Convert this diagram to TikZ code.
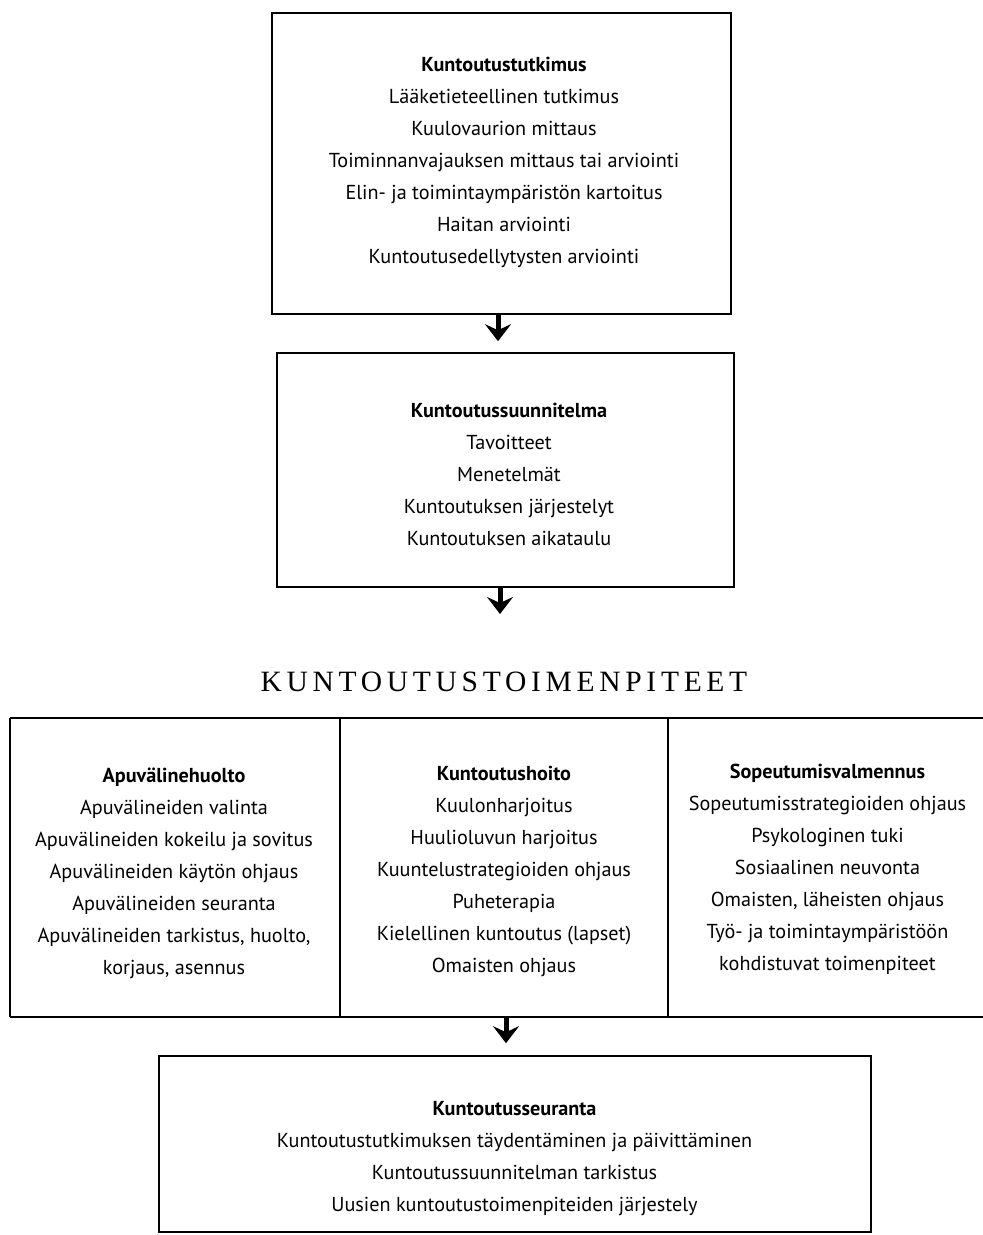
\documentclass[tikz,border=0pt]{standalone}
\usepackage{fontspec}
\setmainfont{PT Sans}
\newfontfamily\titlefont[LetterSpace=16]{Liberation Serif}
\usetikzlibrary{arrows.meta}
\begin{document}
\begin{tikzpicture}[x=1pt,y=-1pt,
  box/.style={draw, line width=1.6pt, inner sep=0pt},
  cell/.style={inner sep=0pt},
  txt/.style={align=center, font=\fontsize{20.2}{32}\selectfont, inner sep=0pt},
  ln/.style={line width=1.6pt},
  arr/.style={line width=5pt, -{Stealth[length=17pt,width=26pt,inset=6pt]}}]
\useasboundingbox (0,0) rectangle (983,1235);

% box 1
\node[box, minimum width=459pt, minimum height=301pt] (b1) at (501.5,163.5) {};
\node[txt] (t1) at (504,162) {\textbf{Kuntoutustutkimus}\\
Lääketieteellinen tutkimus\\
Kuulovaurion mittaus\\
Toiminnanvajauksen mittaus tai arviointi\\
Elin- ja toimintaympäristön kartoitus\\
Haitan arviointi\\
Kuntoutusedellytysten arviointi};

% box 2
\node[box, minimum width=457pt, minimum height=234pt] (b2) at (505.5,470) {};
\node[txt] (t2) at (509,474) {\textbf{Kuntoutussuunnitelma}\\
Tavoitteet\\
Menetelmät\\
Kuntoutuksen järjestelyt\\
Kuntoutuksen aikataulu};

% title
\node[inner sep=0pt] (title) at (504,682) {\titlefont\fontsize{29.5}{32}\selectfont KUNTOUTUSTOIMENPITEET};

% columns
\node[cell, minimum width=330pt, minimum height=299pt] (c1) at (175,867.5) {};
\node[cell, minimum width=328pt, minimum height=299pt] (c2) at (504,867.5) {};
\node[cell, minimum width=315pt, minimum height=299pt] (c3) at (825.5,867.5) {};
\draw[ln] (c1.north west) -- (c3.north east);
\draw[ln] (c1.south west) -- (c3.south east);
\draw[ln] (c1.north west) -- (c1.south west);
\draw[ln] (c1.north east) -- (c1.south east);
\draw[ln] (c2.north east) -- (c2.south east);

\node[txt] (t3) at (174,873) {\textbf{Apuvälinehuolto}\\
Apuvälineiden valinta\\
Apuvälineiden kokeilu ja sovitus\\
Apuvälineiden käytön ohjaus\\
Apuvälineiden seuranta\\
Apuvälineiden tarkistus, huolto,\\
korjaus, asennus};
\node[txt] (t4) at (504,871) {\textbf{Kuntoutushoito}\\
Kuulonharjoitus\\
Huulioluvun harjoitus\\
Kuuntelustrategioiden ohjaus\\
Puheterapia\\
Kielellinen kuntoutus (lapset)\\
Omaisten ohjaus};
\node[txt] (t5) at (827.5,869) {\textbf{Sopeutumisvalmennus}\\
Sopeutumisstrategioiden ohjaus\\
Psykologinen tuki\\
Sosiaalinen neuvonta\\
Omaisten, läheisten ohjaus\\
Työ- ja toimintaympäristöön\\
kohdistuvat toimenpiteet};

% box 4
\node[box, minimum width=712pt, minimum height=176pt] (b4) at (515,1144) {};
\node[txt] (t6) at (514.5,1159) {\textbf{Kuntoutusseuranta}\\
Kuntoutustutkimuksen täydentäminen ja päivittäminen\\
Kuntoutussuunnitelman tarkistus\\
Uusien kuntoutustoimenpiteiden järjestely};

% arrows
\coordinate (ax1) at (498,0);
\coordinate (ax2) at (500,0);
\coordinate (ax3) at (506,0);
\coordinate (a2e) at (500,614);
\draw[arr, shorten >=11pt] (b1.south -| ax1) -- (b2.north -| ax1);
\draw[arr] (b2.south -| ax2) -- (a2e);
\draw[arr, shorten >=12pt] (c2.south -| ax3) -- (b4.north -| ax3);
\end{tikzpicture}
\end{document}
